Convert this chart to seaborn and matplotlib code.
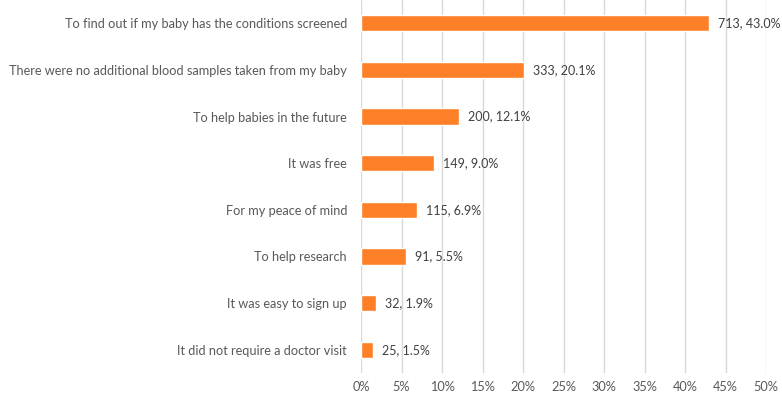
import matplotlib.pyplot as plt
import seaborn as sns
import pandas as pd

reasons = [
    "To find out if my baby has the conditions screened",
    "There were no additional blood samples taken from my baby",
    "To help babies in the future",
    "It was free",
    "For my peace of mind",
    "To help research",
    "It was easy to sign up",
    "It did not require a doctor visit",
]
counts = [713, 333, 200, 149, 115, 91, 32, 25]
percents = [43.0, 20.1, 12.1, 9.0, 6.9, 5.5, 1.9, 1.5]
x_ticks = [0, 5, 10, 15, 20, 25, 30, 35, 40, 45, 50]

df = pd.DataFrame({"Reason": reasons, "Count": counts, "Percent": percents})

sns.set_style("white")
plt.rcParams["font.family"] = ["Lato", "DejaVu Sans"]

fig = plt.figure(figsize=(7.82, 3.97), dpi=100)
ax = fig.add_axes([361 / 782, 1 - 373 / 397, 405 / 782, 373 / 397])

sns.barplot(data=df, x="Percent", y="Reason", color="#FD7F28", width=0.35,
            saturation=1, ax=ax, zorder=3)

for i, (c, p) in enumerate(zip(counts, percents)):
    ax.annotate(f"{c}, {p:.1f}%", xy=(p, i), xytext=(6.5, 0),
                textcoords="offset points", va="center", ha="left",
                fontsize=9, color="#404040")

ax.set_xlim(0, 50)
ax.set_xticks(x_ticks)
ax.set_xticklabels([f"{t}%" for t in x_ticks])
ax.xaxis.grid(True, color="#D9D9D9", linewidth=1, zorder=0)
ax.set_axisbelow(True)
ax.set_xlabel("")
ax.set_ylabel("")
ax.tick_params(axis="both", length=0, labelsize=9.2, labelcolor="#595959")
ax.tick_params(axis="y", pad=10)
ax.tick_params(axis="x", pad=6)
for s in ax.spines.values():
    s.set_visible(False)

fig.savefig("out.png", dpi=100)
